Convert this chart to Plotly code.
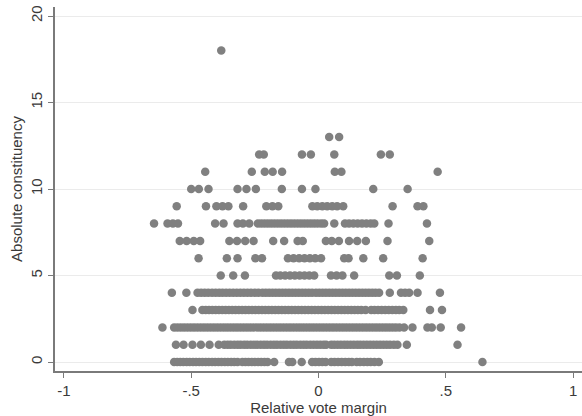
import plotly.graph_objects as go

# Relative vote margin values, grouped by absolute constituency value
row_0 = [-0.567, -0.555, -0.543, -0.531, -0.518, -0.506, -0.493, -0.481, -0.468, -0.456,
         -0.443, -0.431, -0.418, -0.406, -0.393, -0.381, -0.368, -0.356, -0.343, -0.331,
         -0.318, -0.299, -0.287, -0.275, -0.262, -0.250, -0.237, -0.225, -0.212, -0.200,
         -0.174, -0.116, -0.103, -0.066, -0.025, -0.012, 0.002, 0.015, 0.028, 0.050,
         0.063, 0.077, 0.091, 0.105, 0.119, 0.131, 0.150, 0.163, 0.178, 0.192, 0.205,
         0.220, 0.237, 0.644]
row_1 = [-0.560, -0.530, -0.495, -0.462, -0.428, -0.392, -0.370, -0.357, -0.345, -0.331,
         -0.318, -0.306, -0.292, -0.280, -0.266, -0.253, -0.241, -0.227, -0.214, -0.202,
         -0.188, -0.175, -0.163, -0.149, -0.136, -0.124, -0.110, -0.097, -0.085, -0.071,
         -0.058, -0.046, -0.032, -0.019, -0.006, 0.007, 0.020, 0.030, 0.050, 0.062,
         0.075, 0.088, 0.101, 0.113, 0.126, 0.139, 0.152, 0.164, 0.177, 0.190, 0.203,
         0.216, 0.229, 0.242, 0.255, 0.268, 0.281, 0.296, 0.310, 0.347, 0.546]
row_2 = [-0.613, -0.567, -0.554, -0.541, -0.528, -0.515, -0.502, -0.489, -0.476, -0.463,
         -0.450, -0.437, -0.424, -0.411, -0.398, -0.385, -0.372, -0.359, -0.346, -0.333,
         -0.320, -0.307, -0.294, -0.281, -0.268, -0.255, -0.242, -0.229, -0.216, -0.203,
         -0.190, -0.177, -0.164, -0.151, -0.138, -0.125, -0.112, -0.099, -0.086, -0.073,
         -0.060, -0.047, -0.034, -0.021, -0.008, 0.005, 0.018, 0.031, 0.044, 0.057,
         0.070, 0.083, 0.096, 0.109, 0.122, 0.135, 0.148, 0.161, 0.174, 0.187, 0.200,
         0.213, 0.226, 0.239, 0.252, 0.265, 0.278, 0.291, 0.304, 0.318, 0.336, 0.369,
         0.428, 0.445, 0.480, 0.560]
row_3 = [-0.495, -0.456, -0.443, -0.430, -0.417, -0.404, -0.391, -0.378, -0.365, -0.352,
         -0.339, -0.326, -0.313, -0.300, -0.287, -0.274, -0.261, -0.248, -0.235, -0.222,
         -0.209, -0.196, -0.183, -0.170, -0.157, -0.144, -0.131, -0.118, -0.105, -0.092,
         -0.079, -0.066, -0.053, -0.040, -0.027, -0.014, -0.001, 0.012, 0.025, 0.038,
         0.051, 0.064, 0.077, 0.090, 0.103, 0.116, 0.129, 0.142, 0.155, 0.168, 0.185,
         0.207, 0.220, 0.234, 0.248, 0.262, 0.276, 0.290, 0.304, 0.317, 0.333, 0.438,
         0.485]
row_4 = [-0.576, -0.519, -0.475, -0.461, -0.447, -0.433, -0.418, -0.404, -0.390, -0.377,
         -0.363, -0.349, -0.335, -0.321, -0.307, -0.293, -0.279, -0.265, -0.250, -0.236,
         -0.220, -0.207, -0.194, -0.181, -0.168, -0.155, -0.142, -0.129, -0.116, -0.103,
         -0.090, -0.077, -0.064, -0.051, -0.038, -0.025, -0.010, 0.003, 0.016, 0.029,
         0.042, 0.055, 0.068, 0.081, 0.094, 0.107, 0.120, 0.133, 0.146, 0.159, 0.172,
         0.185, 0.198, 0.211, 0.224, 0.238, 0.280, 0.324, 0.340, 0.356, 0.389, 0.477]
row_5 = [-0.384, -0.335, -0.289, -0.167, -0.150, -0.131, -0.112, -0.093, -0.074, -0.055,
         -0.036, -0.017, 0.049, 0.071, 0.094, 0.140, 0.278, 0.308, 0.398]
row_6 = [-0.471, -0.360, -0.318, -0.248, -0.222, -0.120, -0.098, -0.076, -0.055, -0.034,
         -0.013, 0.010, 0.101, 0.118, 0.176, 0.254, 0.409]
row_7 = [-0.545, -0.518, -0.490, -0.465, -0.350, -0.320, -0.288, -0.255, -0.178, -0.135,
         -0.082, -0.062, 0.029, 0.052, 0.080, 0.120, 0.152, 0.186, 0.271, 0.435]
row_8 = [-0.646, -0.593, -0.572, -0.552, -0.406, -0.373, -0.318, -0.297, -0.272, -0.238,
         -0.225, -0.212, -0.199, -0.186, -0.173, -0.160, -0.147, -0.134, -0.121, -0.108,
         -0.095, -0.082, -0.069, -0.056, -0.043, -0.030, -0.017, -0.004, 0.010, 0.022,
         0.062, 0.104, 0.120, 0.137, 0.154, 0.171, 0.188, 0.205, 0.219, 0.275, 0.426]
row_9 = [-0.557, -0.442, -0.401, -0.377, -0.354, -0.296, -0.205, -0.181, -0.158, -0.024,
         -0.005, 0.015, 0.034, 0.054, 0.073, 0.097, 0.291, 0.389, 0.412]
row_10 = [-0.500, -0.470, -0.432, -0.318, -0.283, -0.246, -0.144, -0.065, -0.012, 0.215, 0.350]
row_11 = [-0.445, -0.262, -0.211, -0.180, -0.143, 0.064, 0.090, 0.468]
row_12 = [-0.233, -0.215, -0.065, -0.030, 0.062, 0.245, 0.280]
row_13 = [0.042, 0.081]
row_18 = [-0.382]

rows = {0: row_0, 1: row_1, 2: row_2, 3: row_3, 4: row_4, 5: row_5, 6: row_6,
        7: row_7, 8: row_8, 9: row_9, 10: row_10, 11: row_11, 12: row_12,
        13: row_13, 18: row_18}

x_ticks = [-1, -0.5, 0, 0.5, 1]
x_tick_labels = ["-1", "-.5", "0", ".5", "1"]
y_ticks = [0, 5, 10, 15, 20]
y_tick_labels = ["0", "5", "10", "15", "20"]

margin_vals = []
constituency_vals = []
for yv, xs in rows.items():
    margin_vals.extend(xs)
    constituency_vals.extend([yv] * len(xs))

fig = go.Figure(go.Scatter(
    x=margin_vals, y=constituency_vals, mode="markers",
    marker=dict(color="#808080", size=8.5, line=dict(width=0)),
    showlegend=False,
))

font = dict(family="Liberation Sans, Arial, sans-serif", size=15, color="#3a3a3a")

fig.update_layout(
    width=582, height=416,
    margin=dict(l=55, r=0, t=7, b=45, autoexpand=False),
    paper_bgcolor="white", plot_bgcolor="white",
    font=font,
    xaxis=dict(
        range=[-1.035, 1.035], tickvals=x_ticks, ticktext=x_tick_labels,
        showgrid=False, zeroline=False, showline=True, linecolor="#7a7a7a", linewidth=1.5,
        ticks="outside", ticklen=5, tickcolor="#7a7a7a", tickwidth=1, automargin=False,
        title=dict(text="Relative vote margin", standoff=0, font=font),
    ),
    yaxis=dict(
        range=[-0.52, 20.52], tickvals=y_ticks, ticktext=y_tick_labels, tickangle=-90,
        showgrid=True, gridcolor="#ebebeb", gridwidth=1,
        zeroline=False, showline=True, linecolor="#7a7a7a", linewidth=1.5,
        ticks="outside", ticklen=5, tickcolor="#7a7a7a", tickwidth=1, automargin=False,
        title=dict(text="Absolute constituency", standoff=2, font=font),
    ),
)

fig.write_html("out.html", config={"displayModeBar": False},
               post_script="document.body.style.margin='0';")
